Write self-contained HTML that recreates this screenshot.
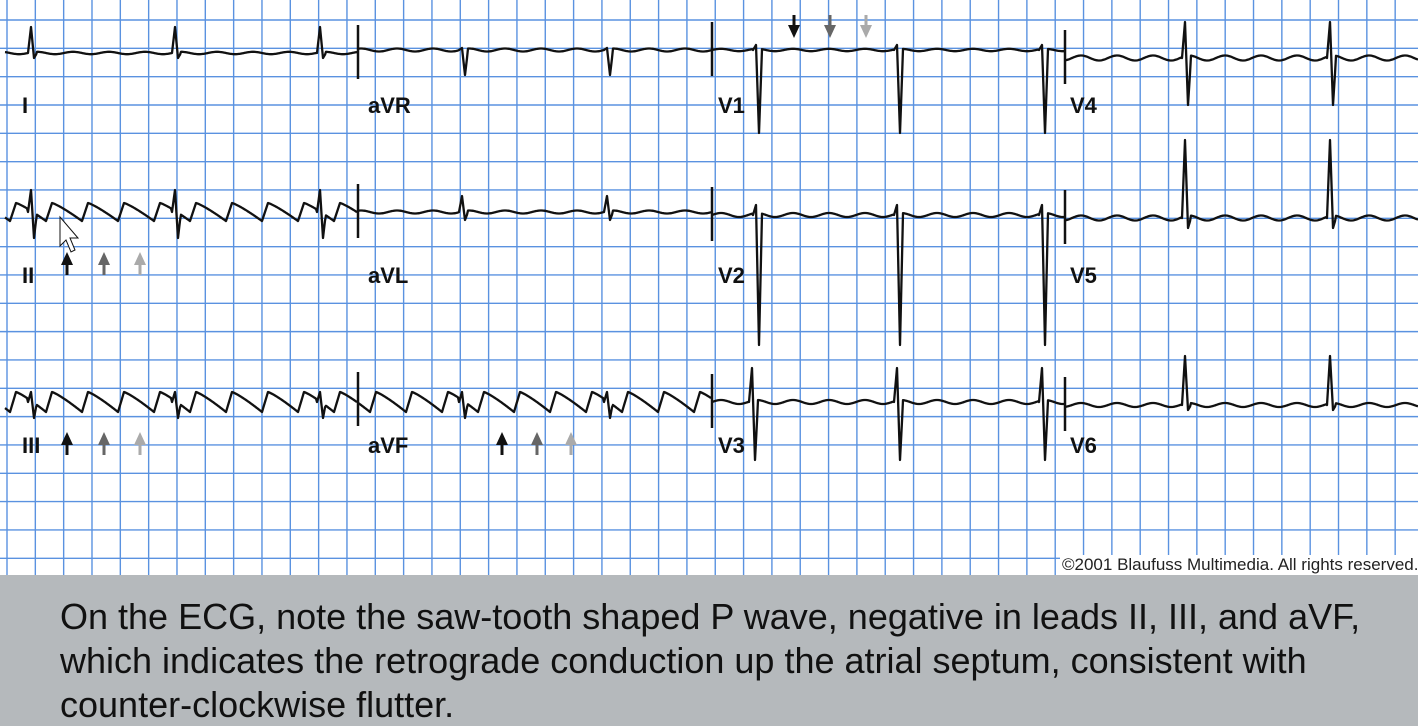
<!DOCTYPE html><html><head><meta charset="utf-8"><style>
body{margin:0;width:1418px;height:726px;overflow:hidden;background:#fff;font-family:"Liberation Sans",sans-serif}
#g{position:absolute;left:0;top:0}
.cap{position:absolute;left:0;top:575px;width:1418px;height:151px;background:#b5b9bc}
.cap p{margin:0;position:absolute;left:60px;top:20px;font-size:36px;line-height:44px;color:#111;white-space:nowrap}
.copy{position:absolute;left:1060px;top:555px;font-size:17px;color:#222;background:#fff;padding:0 2px;white-space:nowrap}
</style></head><body>
<svg id="g" width="1418" height="575" xmlns="http://www.w3.org/2000/svg"></svg>
<div class="copy">©2001 Blaufuss Multimedia. All rights reserved.</div>
<div class="cap"><p>On the ECG, note the saw-tooth shaped P wave, negative in leads II, III, and aVF,<br>which indicates the retrograde conduction up the atrial septum, consistent with<br>counter-clockwise flutter.</p></div>
<script>
var s=document.getElementById('g'),h='';
for(var x=7;x<1418;x+=28.33)h+='<line x1="'+x+'" y1="0" x2="'+x+'" y2="575" stroke="#5a92e0" stroke-width="1.4"/>';
for(var y=20;y<575;y+=28.33)h+='<line x1="0" y1="'+y+'" x2="1418" y2="'+y+'" stroke="#5a92e0" stroke-width="1.4"/>';
function lead(x0,x1,b,fa,saw,qrs){
 var p=[];
 for(var x=x0;x<=x1;x+=1){
  var ph=((x-10)%36+36)%36,y=b;
  if(saw){y=ph<6?b+fa-2*fa*(ph/6):b-fa+2*fa*Math.pow((ph-6)/30,1.2);}
  else y=b+fa*Math.sin(ph/36*6.28);
  for(var k=0;k<qrs.length;k++){var q=qrs[k],d=x-q[0];
   if(d>=-3&&d<0)y=b+(q[1]-b)*((d+3)/3);
   else if(d>=0&&d<3)y=q[1]+(q[2]-q[1])*(d/3);
   else if(d>=3&&d<6)y=q[2]+(b-q[2])*((d-3)/3);}
  p.push(x+','+y.toFixed(1));
 }
 h+='<polyline points="'+p.join(' ')+'" fill="none" stroke="#111" stroke-width="2.3" stroke-linejoin="round"/>';
}
function Q(xs,a,b2){return xs.map(function(x){return [x,a,b2]})}
var L=[31,175,320],A=[462,607];
lead(5,357,53,1.2,0,Q(L,27,58));
lead(358,711,50,1.5,0,Q(A,48,75));
lead(712,1064,50,1.2,0,Q([756,897,1042],45,133));
lead(1065,1418,58,2.5,0,Q([1185,1330],22,105));
lead(5,357,212,9,1,Q(L,190,238));
lead(358,711,212,1.5,0,Q(A,196,220));
lead(712,1064,215,2,0,Q([756,897,1042],205,345));
lead(1065,1418,218,2.5,0,Q([1185,1330],140,228));
lead(5,357,402,10,1,Q(L,392,418));
lead(358,711,402,10,1,Q(A,392,418));
lead(712,1064,402,2,0,Q([752,897,1042],368,460));
lead(1065,1418,405,2,0,Q([1185,1330],356,410));
[[358,53],[712,50],[1065,58],[358,212],[712,215],[1065,218],[358,400],[712,402],[1065,405]].forEach(function(m){h+='<line x1="'+m[0]+'" y1="'+(m[1]-28)+'" x2="'+m[0]+'" y2="'+(m[1]+26)+'" stroke="#111" stroke-width="2.5"/>';});
var lab=[['I',22,113],['aVR',368,113],['V1',718,113],['V4',1070,113],['II',22,283],['aVL',368,283],['V2',718,283],['V5',1070,283],['III',22,453],['aVF',368,453],['V3',718,453],['V6',1070,453]];
lab.forEach(function(l){h+='<text x="'+l[1]+'" y="'+l[2]+'" font-family="Liberation Sans" font-weight="bold" font-size="22" fill="#111">'+l[0]+'</text>';});
var cols=['#111','#666','#aaa'];
function arr(x,y,up,c){var d=up?1:-1;h+='<line x1="'+x+'" y1="'+(y+12*d)+'" x2="'+x+'" y2="'+(y-4*d)+'" stroke="'+c+'" stroke-width="3"/><polygon points="'+(x-6)+','+(y+2*d)+' '+(x+6)+','+(y+2*d)+' '+x+','+(y-11*d)+'" fill="'+c+'"/>';}
[67,104,140].forEach(function(x,i){arr(x,263,1,cols[i]);arr(x,443,1,cols[i]);});
[502,537,571].forEach(function(x,i){arr(x,443,1,cols[i]);});
[794,830,866].forEach(function(x,i){arr(x,27,0,cols[i]);});
h+='<polygon points="60,217 60,246 66,240 71,252 75,250 70,238 78,238" fill="#fff" stroke="#111" stroke-width="1"/>';
s.innerHTML=h;
</script>
</body></html>
